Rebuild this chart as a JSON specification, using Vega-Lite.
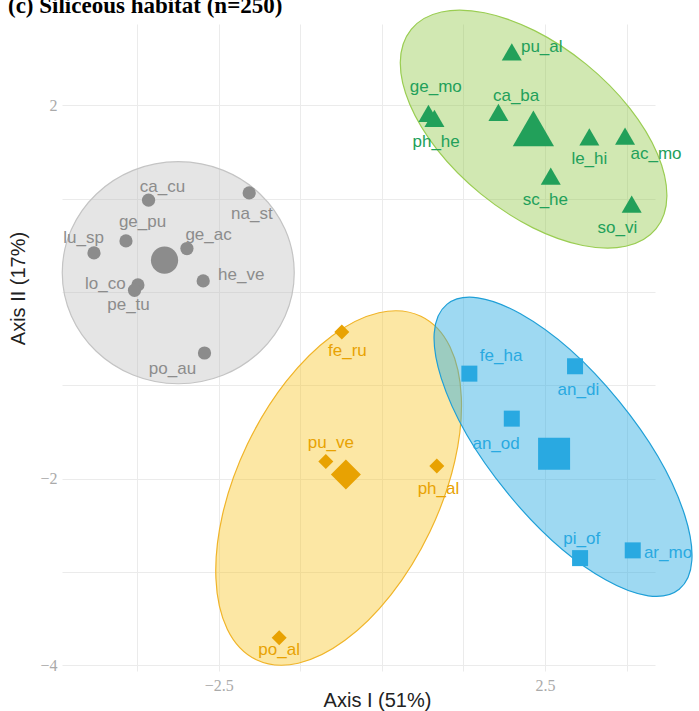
{
  "$schema": "https://vega.github.io/schema/vega-lite/v6.json",
  "width": 593,
  "height": 647,
  "autosize": {"type": "none"},
  "padding": {"left": 62, "top": 24, "right": 44, "bottom": 40},
  "background": "white",
  "config": {"view": {"stroke": null}},
  "title": {
    "text": "(c) Siliceous habitat (n=250)",
    "anchor": "start",
    "frame": "group",
    "orient": "top",
    "baseline": "alphabetic",
    "offset": -28,
    "dx": -54,
    "font": "Liberation Serif",
    "fontSize": 23,
    "fontWeight": "bold",
    "color": "#000000"
  },
  "datasets": {
    "ell": [
      {"grp": "gray", "cx": -3.119, "cy": 0.206},
      {"grp": "green", "cx": 2.325, "cy": 1.744},
      {"grp": "yellow", "cx": -0.662, "cy": -2.1},
      {"grp": "blue", "cx": 2.776, "cy": -1.659}
    ],
    "pts": [
      {"sp": "ca_cu", "grp": "gray", "type": "species", "x": -3.574, "y": 0.983, "lx": -3.36, "ly": 1.125},
      {"sp": "na_st", "grp": "gray", "type": "species", "x": -2.032, "y": 1.061, "lx": -1.991, "ly": 0.833},
      {"sp": "ge_pu", "grp": "gray", "type": "species", "x": -3.92, "y": 0.547, "lx": -3.666, "ly": 0.75},
      {"sp": "lu_sp", "grp": "gray", "type": "species", "x": -4.41, "y": 0.418, "lx": -4.57, "ly": 0.583},
      {"sp": "ge_ac", "grp": "gray", "type": "species", "x": -2.986, "y": 0.465, "lx": -2.655, "ly": 0.608},
      {"sp": "he_ve", "grp": "gray", "type": "species", "x": -2.737, "y": 0.118, "lx": -2.155, "ly": 0.179},
      {"sp": "lo_co", "grp": "gray", "type": "species", "x": -3.737, "y": 0.075, "lx": -4.237, "ly": 0.09},
      {"sp": "pe_tu", "grp": "gray", "type": "species", "x": -3.789, "y": 0.018, "lx": -3.881, "ly": -0.143},
      {"sp": "po_au", "grp": "gray", "type": "species", "x": -2.717, "y": -0.654, "lx": -3.207, "ly": -0.821},
      {"sp": "", "grp": "gray", "type": "centroid", "x": -3.329, "y": 0.34},
      {"sp": "pu_al", "grp": "green", "type": "species", "x": 1.991, "y": 2.572, "lx": 2.45, "ly": 2.626},
      {"sp": "ge_mo", "grp": "green", "type": "species", "x": 0.714, "y": 1.912, "lx": 0.827, "ly": 2.191},
      {"sp": "ph_he", "grp": "green", "type": "species", "x": 0.806, "y": 1.859, "lx": 0.832, "ly": 1.608},
      {"sp": "ca_ba", "grp": "green", "type": "species", "x": 1.786, "y": 1.923, "lx": 2.057, "ly": 2.101},
      {"sp": "le_hi", "grp": "green", "type": "species", "x": 3.179, "y": 1.661, "lx": 3.179, "ly": 1.419},
      {"sp": "ac_mo", "grp": "green", "type": "species", "x": 3.726, "y": 1.669, "lx": 4.201, "ly": 1.476},
      {"sp": "sc_he", "grp": "green", "type": "species", "x": 2.588, "y": 1.24, "lx": 2.505, "ly": 0.983},
      {"sp": "so_vi", "grp": "green", "type": "species", "x": 3.828, "y": 0.94, "lx": 3.608, "ly": 0.69},
      {"sp": "", "grp": "green", "type": "centroid", "x": 2.322, "y": 1.751},
      {"sp": "fe_ru", "grp": "yellow", "type": "species", "x": -0.613, "y": -0.429, "lx": -0.527, "ly": -0.632},
      {"sp": "pu_ve", "grp": "yellow", "type": "species", "x": -0.858, "y": -1.815, "lx": -0.781, "ly": -1.614},
      {"sp": "ph_al", "grp": "yellow", "type": "species", "x": 0.842, "y": -1.865, "lx": 0.867, "ly": -2.107},
      {"sp": "po_al", "grp": "yellow", "type": "species", "x": -1.573, "y": -3.704, "lx": -1.573, "ly": -3.84},
      {"sp": "", "grp": "yellow", "type": "centroid", "x": -0.551, "y": -1.954},
      {"sp": "fe_ha", "grp": "blue", "type": "species", "x": 1.341, "y": -0.875, "lx": 1.827, "ly": -0.689},
      {"sp": "an_di", "grp": "blue", "type": "species", "x": 2.96, "y": -0.796, "lx": 3.011, "ly": -1.046},
      {"sp": "an_od", "grp": "blue", "type": "species", "x": 1.991, "y": -1.357, "lx": 1.75, "ly": -1.625},
      {"sp": "pi_of", "grp": "blue", "type": "species", "x": 3.037, "y": -2.851, "lx": 3.063, "ly": -2.651},
      {"sp": "ar_mo", "grp": "blue", "type": "species", "x": 3.844, "y": -2.768, "lx": 4.384, "ly": -2.797},
      {"sp": "", "grp": "blue", "type": "centroid", "x": 2.639, "y": -1.732}
    ]
  },
  "layer": [
    {
      "data": {"name": "ell"},
      "transform": [{"filter": "datum.grp === 'gray'"}],
      "mark": {"type": "point", "shape": "M-1,0C-1,-0.5285 -0.5523,-0.957 0,-0.957C0.5523,-0.957 1,-0.5285 1,0C1,0.5285 0.5523,0.957 0,0.957C-0.5523,0.957 -1,0.5285 -1,0Z", "size": 53824, "angle": 0, "filled": true, "fill": "#b4b4b4", "fillOpacity": 0.35, "stroke": "#c4c4c4", "strokeWidth": 1.2, "strokeOpacity": 1, "opacity": 1},
      "encoding": {
        "x": {"field": "cx", "type": "quantitative", "scale": {"domain": [-4.9, 4.185], "nice": false, "zero": false},
          "axis": {"values": [-3.75, -2.5, -1.25, 0, 1.25, 2.5, 3.75], "labelExpr": "datum.value == 2.5 ? '2.5' : (datum.value == -2.5 ? '\u22122.5' : '')", "grid": true, "gridColor": "#ebebeb", "gridWidth": 1, "ticks": false, "domain": false, "labelFont": "Liberation Serif", "labelFontSize": 16, "labelColor": "#aaaaaa", "labelPadding": 6, "title": "Axis I (51%)", "titleFont": "Liberation Sans", "titleFontSize": 20, "titleFontWeight": "normal", "titleColor": "#222222", "titleX": 315, "titleY": 29, "titleBaseline": "middle", "titleAlign": "center"}},
        "y": {"field": "cy", "type": "quantitative", "scale": {"domain": [-4.06, 2.87], "nice": false, "zero": false},
          "axis": {"values": [-4, -3, -2, -1, 0, 1, 2], "labelExpr": "datum.value == 2 ? '2' : (datum.value == -2 ? '\u22122' : (datum.value == -4 ? '\u22124' : ''))", "grid": true, "gridColor": "#ebebeb", "gridWidth": 1, "ticks": false, "domain": false, "labelFont": "Liberation Serif", "labelFontSize": 16, "labelColor": "#aaaaaa", "labelPadding": 5, "title": "Axis II (17%)", "titleFont": "Liberation Sans", "titleFontSize": 20, "titleFontWeight": "normal", "titleColor": "#222222", "titleX": -44, "titleY": 264, "titleBaseline": "middle", "titleAlign": "center", "titleAngle": -90}}
      }
    },
    {
      "data": {"name": "ell"},
      "transform": [{"filter": "datum.grp === 'green'"}],
      "mark": {"type": "point", "shape": "M-1,0C-1,-0.2922 -0.5523,-0.529 0,-0.529C0.5523,-0.529 1,-0.2922 1,0C1,0.2922 0.5523,0.529 0,0.529C-0.5523,0.529 -1,0.2922 -1,0Z", "size": 99730, "angle": 39.2, "filled": true, "fill": "#8cc63f", "fillOpacity": 0.4, "stroke": "#9acd52", "strokeWidth": 1.2, "strokeOpacity": 1, "opacity": 1},
      "encoding": {
        "x": {"field": "cx", "type": "quantitative"},
        "y": {"field": "cy", "type": "quantitative"}
      }
    },
    {
      "data": {"name": "ell"},
      "transform": [{"filter": "datum.grp === 'yellow'"}],
      "mark": {"type": "point", "shape": "M-1,0C-1,-0.2935 -0.5523,-0.5315 0,-0.5315C0.5523,-0.5315 1,-0.2935 1,0C1,0.2935 0.5523,0.5315 0,0.5315C-0.5523,0.5315 -1,0.2935 -1,0Z", "size": 145000, "angle": -64.4, "filled": true, "fill": "#f8c21b", "fillOpacity": 0.4, "stroke": "#f0b429", "strokeWidth": 1.2, "strokeOpacity": 1, "opacity": 1},
      "encoding": {
        "x": {"field": "cx", "type": "quantitative"},
        "y": {"field": "cy", "type": "quantitative"}
      }
    },
    {
      "data": {"name": "ell"},
      "transform": [{"filter": "datum.grp === 'blue'"}],
      "mark": {"type": "point", "shape": "M-1,0C-1,-0.2171 -0.5523,-0.393 0,-0.393C0.5523,-0.393 1,-0.2171 1,0C1,0.2171 0.5523,0.393 0,0.393C-0.5523,0.393 -1,0.2171 -1,0Z", "size": 135130, "angle": 50.8, "filled": true, "fill": "#29abe2", "fillOpacity": 0.45, "stroke": "#1e9fd7", "strokeWidth": 1.2, "strokeOpacity": 1, "opacity": 1},
      "encoding": {
        "x": {"field": "cx", "type": "quantitative"},
        "y": {"field": "cy", "type": "quantitative"}
      }
    },
    {
      "mark": {"type": "rule", "color": "#8a8a8a", "strokeDash": [1, 2], "strokeWidth": 1},
      "encoding": {"y": {"datum": 0, "type": "quantitative"}}
    },
    {
      "mark": {"type": "rule", "color": "#8a8a8a", "strokeDash": [1, 2], "strokeWidth": 1},
      "encoding": {"x": {"datum": 0, "type": "quantitative"}}
    },
    {
      "data": {"name": "pts"},
      "mark": {"type": "point", "filled": true, "opacity": 1, "strokeWidth": 0},
      "encoding": {
        "x": {"field": "x", "type": "quantitative"},
        "y": {"field": "y", "type": "quantitative"},
        "color": {"field": "grp", "type": "nominal", "scale": {"domain": ["gray", "green", "yellow", "blue"], "range": ["#8c8c8c", "#22a05a", "#e8a202", "#29a9e1"]}, "legend": null},
        "shape": {"field": "grp", "type": "nominal", "scale": {"domain": ["gray", "green", "yellow", "blue"], "range": ["circle", "triangle-up", "diamond", "square"]}, "legend": null},
        "size": {
          "condition": [
            {"test": "datum.type === 'centroid' && datum.grp === 'gray'", "value": 740},
            {"test": "datum.type === 'centroid' && datum.grp === 'green'", "value": 1700},
            {"test": "datum.type === 'centroid' && datum.grp === 'yellow'", "value": 900},
            {"test": "datum.type === 'centroid' && datum.grp === 'blue'", "value": 1024},
            {"test": "datum.grp === 'green'", "value": 400},
            {"test": "datum.grp === 'yellow'", "value": 225},
            {"test": "datum.grp === 'blue'", "value": 256}
          ],
          "value": 175
        }
      }
    },
    {
      "data": {"name": "pts"},
      "transform": [{"filter": "datum.type === 'species'"}],
      "mark": {"type": "text", "font": "Liberation Sans", "fontSize": 17, "align": "center", "baseline": "middle"},
      "encoding": {
        "x": {"field": "lx", "type": "quantitative"},
        "y": {"field": "ly", "type": "quantitative"},
        "text": {"field": "sp"},
        "color": {"field": "grp", "type": "nominal", "legend": null}
      }
    }
  ]
}
